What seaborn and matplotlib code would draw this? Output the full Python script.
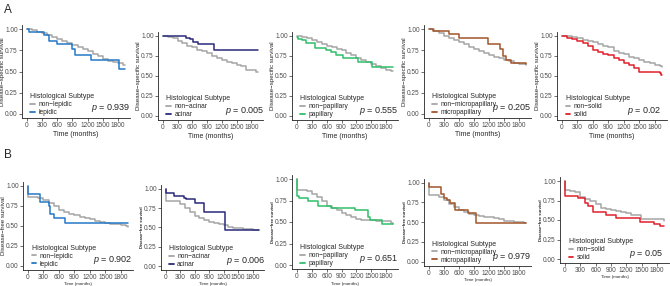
import pandas as pd
import matplotlib.pyplot as plt
import seaborn as sns
from matplotlib.lines import Line2D

# ---- row A: disease-specific survival ----
a1_ref_t = [0, 100, 200, 300, 400, 500, 600, 700, 800, 900, 1000, 1100, 1200, 1300, 1400, 1500, 1600, 1700, 1800, 1900, 1940]
a1_ref_s = [1.0, 0.985, 0.97, 0.95, 0.93, 0.905, 0.88, 0.86, 0.835, 0.81, 0.785, 0.765, 0.74, 0.71, 0.68, 0.645, 0.625, 0.61, 0.60, 0.58, 0.575]
a1_sub_t = [0, 50, 330, 430, 600, 900, 960, 1270, 1810, 1940]
a1_sub_s = [1.0, 0.97, 0.93, 0.86, 0.82, 0.76, 0.70, 0.64, 0.53, 0.53]

a2_ref_t = [0, 100, 200, 300, 400, 500, 600, 700, 800, 900, 1000, 1100, 1200, 1300, 1400, 1500, 1600, 1700, 1800, 1900, 1940]
a2_ref_s = [1.0, 0.99, 0.97, 0.94, 0.91, 0.88, 0.86, 0.83, 0.81, 0.79, 0.75, 0.72, 0.70, 0.68, 0.66, 0.64, 0.62, 0.58, 0.57, 0.55, 0.55]
a2_sub_t = [0, 480, 560, 620, 720, 1050, 1940]
a2_sub_s = [1.0, 0.98, 0.96, 0.93, 0.90, 0.83, 0.83]

a3_ref_t = [0, 100, 200, 300, 400, 500, 600, 700, 800, 900, 1000, 1100, 1200, 1300, 1400, 1500, 1600, 1700, 1800, 1900, 1940]
a3_ref_s = [1.0, 0.99, 0.975, 0.955, 0.93, 0.905, 0.88, 0.86, 0.84, 0.82, 0.79, 0.76, 0.73, 0.70, 0.68, 0.655, 0.62, 0.60, 0.57, 0.56, 0.56]
a3_sub_t = [0, 20, 110, 190, 370, 590, 690, 790, 920, 1240, 1510, 1940]
a3_sub_s = [0.99, 0.96, 0.95, 0.91, 0.85, 0.83, 0.80, 0.76, 0.72, 0.68, 0.61, 0.61]

a4_ref_t = [0, 100, 200, 300, 400, 500, 600, 700, 800, 900, 1000, 1100, 1200, 1300, 1400, 1500, 1600, 1700, 1800, 1900, 1940]
a4_ref_s = [1.0, 0.98, 0.95, 0.92, 0.90, 0.875, 0.85, 0.82, 0.79, 0.765, 0.74, 0.715, 0.69, 0.67, 0.655, 0.64, 0.62, 0.60, 0.59, 0.585, 0.58]
a4_sub_t = [0, 80, 410, 610, 1170, 1410, 1480, 1530, 1640, 1940]
a4_sub_s = [1.0, 0.98, 0.94, 0.89, 0.82, 0.76, 0.68, 0.64, 0.60, 0.59]

a5_ref_t = [0, 100, 200, 300, 400, 500, 600, 700, 800, 900, 1000, 1100, 1200, 1300, 1400, 1500, 1600, 1700, 1800, 1900, 1940]
a5_ref_s = [1.0, 0.995, 0.985, 0.97, 0.955, 0.94, 0.925, 0.90, 0.88, 0.86, 0.81, 0.785, 0.77, 0.74, 0.72, 0.70, 0.68, 0.66, 0.64, 0.62, 0.615]
a5_sub_t = [0, 100, 200, 300, 400, 500, 600, 700, 800, 900, 1000, 1100, 1200, 1300, 1400, 1500, 1900, 1930, 1940]
a5_sub_s = [1.0, 0.98, 0.965, 0.94, 0.91, 0.87, 0.83, 0.80, 0.78, 0.76, 0.73, 0.70, 0.665, 0.64, 0.60, 0.55, 0.54, 0.51, 0.51]

# ---- row B: disease-free survival ----
b1_ref_t = [0, 5, 100, 200, 300, 400, 500, 600, 700, 800, 900, 1000, 1100, 1200, 1300, 1400, 1500, 1600, 1700, 1800, 1900, 1940]
b1_ref_s = [1.0, 0.86, 0.855, 0.85, 0.82, 0.78, 0.74, 0.69, 0.67, 0.65, 0.63, 0.61, 0.595, 0.58, 0.555, 0.54, 0.53, 0.52, 0.515, 0.51, 0.49, 0.48]
b1_sub_t = [0, 5, 235, 380, 400, 430, 500, 725, 1940]
b1_sub_s = [1.0, 0.89, 0.80, 0.79, 0.74, 0.64, 0.60, 0.53, 0.53]

b2_ref_t = [0, 5, 100, 200, 300, 400, 500, 600, 700, 800, 900, 1000, 1100, 1200, 1300, 1400, 1500, 1600, 1700, 1800, 1900, 1940]
b2_ref_s = [1.0, 0.84, 0.84, 0.835, 0.80, 0.75, 0.70, 0.65, 0.62, 0.59, 0.575, 0.56, 0.545, 0.525, 0.50, 0.495, 0.49, 0.48, 0.475, 0.47, 0.46, 0.46]
b2_sub_t = [0, 5, 180, 370, 430, 600, 800, 1230, 1940]
b2_sub_s = [1.0, 0.94, 0.91, 0.88, 0.86, 0.81, 0.70, 0.47, 0.46]

b3_ref_t = [0, 5, 100, 200, 300, 400, 500, 600, 700, 800, 900, 1000, 1100, 1200, 1300, 1400, 1500, 1600, 1700, 1800, 1900, 1940]
b3_ref_s = [1.0, 0.87, 0.87, 0.865, 0.83, 0.79, 0.74, 0.69, 0.66, 0.635, 0.61, 0.585, 0.555, 0.535, 0.52, 0.52, 0.52, 0.515, 0.515, 0.515, 0.49, 0.48]
b3_sub_t = [0, 5, 50, 230, 420, 680, 1170, 1430, 1470, 1710, 1940]
b3_sub_s = [1.0, 0.80, 0.78, 0.74, 0.69, 0.66, 0.64, 0.56, 0.52, 0.48, 0.48]

b4_ref_t = [0, 5, 100, 200, 300, 400, 500, 600, 700, 800, 900, 1000, 1100, 1200, 1300, 1400, 1500, 1600, 1700, 1800, 1900, 1940]
b4_ref_s = [1.0, 0.85, 0.84, 0.82, 0.78, 0.73, 0.69, 0.66, 0.63, 0.60, 0.59, 0.58, 0.57, 0.56, 0.55, 0.535, 0.52, 0.51, 0.505, 0.505, 0.495, 0.49]
b4_sub_t = [0, 5, 245, 300, 360, 430, 530, 790, 950, 1940]
b4_sub_s = [1.0, 0.94, 0.86, 0.80, 0.78, 0.74, 0.66, 0.61, 0.49, 0.49]

b5_ref_t = [0, 5, 100, 200, 300, 400, 500, 600, 700, 800, 900, 1000, 1100, 1200, 1300, 1400, 1480, 1600, 1700, 1800, 1900, 1930, 1940]
b5_ref_s = [1.0, 0.88, 0.875, 0.86, 0.80, 0.77, 0.74, 0.71, 0.66, 0.64, 0.63, 0.615, 0.60, 0.585, 0.57, 0.56, 0.51, 0.51, 0.51, 0.51, 0.51, 0.49, 0.49]
b5_sub_t = [0, 5, 260, 400, 450, 540, 800, 990, 1460, 1740, 1870, 1940]
b5_sub_s = [1.0, 0.81, 0.78, 0.72, 0.68, 0.60, 0.57, 0.52, 0.48, 0.45, 0.42, 0.42]

subtypes = ['lepidic', 'acinar', 'papillary', 'micropapillary', 'solid']
sub_colors = ['#2478c6', '#2a2a7c', '#2fbf6a', '#a0552b', '#e0202a']
p_row_a = ['0.939', '0.005', '0.555', '0.205', '0.02']
p_row_b = ['0.902', '0.006', '0.651', '0.979', '0.05']
x_ticks = [0, 300, 600, 900, 1200, 1500, 1800]
y_ticks = [0.00, 0.25, 0.50, 0.75, 1.00]
ref_color = '#a6a6a6'

curves_a = [(a1_ref_t, a1_ref_s, a1_sub_t, a1_sub_s), (a2_ref_t, a2_ref_s, a2_sub_t, a2_sub_s),
            (a3_ref_t, a3_ref_s, a3_sub_t, a3_sub_s), (a4_ref_t, a4_ref_s, a4_sub_t, a4_sub_s),
            (a5_ref_t, a5_ref_s, a5_sub_t, a5_sub_s)]
curves_b = [(b1_ref_t, b1_ref_s, b1_sub_t, b1_sub_s), (b2_ref_t, b2_ref_s, b2_sub_t, b2_sub_s),
            (b3_ref_t, b3_ref_s, b3_sub_t, b3_sub_s), (b4_ref_t, b4_ref_s, b4_sub_t, b4_sub_s),
            (b5_ref_t, b5_ref_s, b5_sub_t, b5_sub_s)]

sns.set_theme(style='ticks')
plt.rcParams['font.family'] = ['Liberation Sans', 'DejaVu Sans']
plt.rcParams['mathtext.fontset'] = 'custom'
plt.rcParams['mathtext.it'] = 'Liberation Sans:italic'
plt.rcParams['mathtext.rm'] = 'Liberation Sans'

W, H = 670, 286
fig = plt.figure(figsize=(W / 100, H / 100), dpi=100)

# axes boxes in pixels: left, top, right, bottom
boxes_a = [(22, 24.75, 130, 118.25), (158, 32, 263, 120), (292, 32, 398, 120),
           (424, 24.75, 531, 118.25), (557, 32, 667, 120)]
boxes_b = [(23, 181.5, 133, 269.5), (161, 184.8, 264, 269.9), (292, 174.7, 398, 269.3),
           (424, 178.7, 531, 265.6), (560, 177.1, 669, 262.9)]


def panel(box, curves, sub, color, pval, ylabel, ylab_kw, xlab_kw):
    l, t, r, b = box
    ax = fig.add_axes([l / W, 1 - b / H, (r - l) / W, (b - t) / H])
    ref_t, ref_s, sub_t, sub_s = curves
    ref_name = 'non\u2212' + sub
    df = pd.concat([
        pd.DataFrame({'time': ref_t, 'surv': ref_s, 'group': ref_name}),
        pd.DataFrame({'time': sub_t, 'surv': sub_s, 'group': sub}),
    ], ignore_index=True)
    sns.lineplot(data=df, x='time', y='surv', hue='group',
                 palette={ref_name: ref_color, sub: color},
                 estimator=None, errorbar=None, drawstyle='steps-post',
                 linewidth=1.1, legend=False, ax=ax)
    ax.set_xlim(-97, 2037)
    ax.set_ylim(-0.05, 1.05)
    ax.set_xticks(x_ticks)
    ax.set_yticks(y_ticks)
    ax.set_yticklabels([f'{v:.2f}' for v in y_ticks])
    ax.tick_params(labelsize=4.7, length=2, width=0.5, pad=1, colors='#4d4d4d')
    ax.tick_params(color='#333333')
    for s in ['left', 'bottom']:
        ax.spines[s].set_linewidth(0.6)
        ax.spines[s].set_color('#222222')
    sns.despine(ax=ax)
    ax.set_xlabel('Time (months)', labelpad=1, **xlab_kw)
    ax.set_ylabel(ylabel, labelpad=0.5, **ylab_kw)
    handles = [Line2D([], [], color=ref_color, lw=1.3), Line2D([], [], color=color, lw=1.3)]
    leg = ax.legend(handles, [ref_name, sub], title='Histological Subtype',
                    loc='lower left', bbox_to_anchor=(0.06, 0.0), frameon=False,
                    fontsize=4.8, title_fontsize=5, handlelength=0.7, handletextpad=0.5,
                    labelspacing=0.15, borderpad=0.1, borderaxespad=0.2)
    leg._legend_box.align = 'left'
    ax.text(1260, 0.065, r'$p$ = ' + pval, fontsize=6.5, ha='left', va='center')
    return ax


for i in range(5):
    panel(boxes_a[i], curves_a[i], subtypes[i], sub_colors[i], p_row_a[i],
          'Disease\u2212specific survival', {'fontsize': 4.4}, {'fontsize': 5})

for i in range(5):
    if i == 0:
        ykw = {'fontsize': 4.4}
    else:
        ykw = {'fontsize': 3.0, 'fontweight': 'bold'}
    panel(boxes_b[i], curves_b[i], subtypes[i], sub_colors[i], p_row_b[i],
          'Disease\u2212free survival', ykw, {'fontsize': 3.2})

fig.text(8 / W, 1 - 10 / H, 'A', fontsize=8.5, ha='center', va='center')
fig.text(8 / W, 1 - 155 / H, 'B', fontsize=8.5, ha='center', va='center')

fig.savefig('out.png', dpi=100)
